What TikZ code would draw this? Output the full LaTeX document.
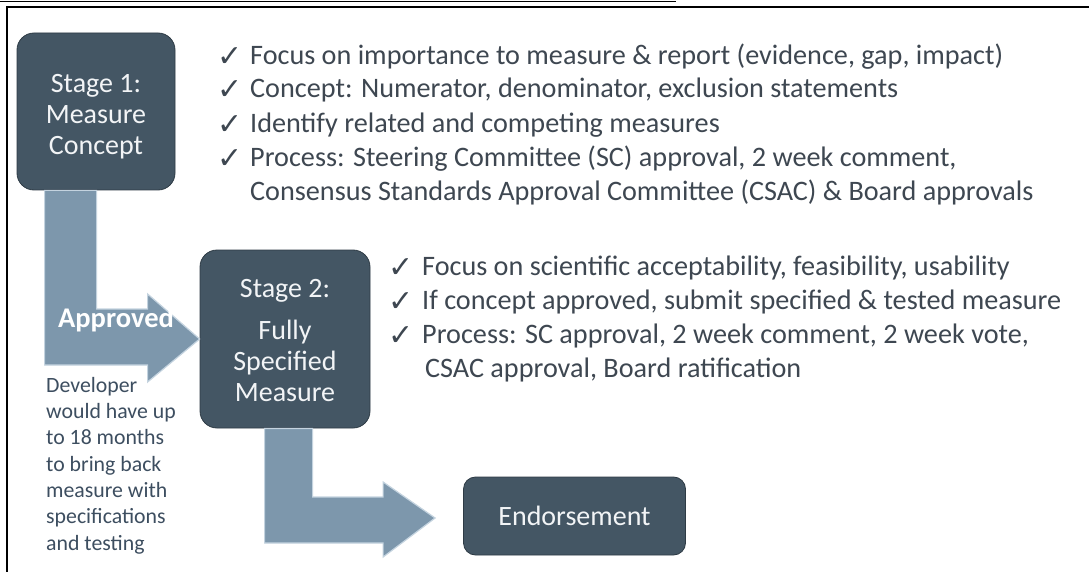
\documentclass[tikz,border=0pt]{standalone}
\usepackage{fontspec}
\setmainfont{Carlito}
\newfontfamily\symfont{DejaVu Sans}
\usetikzlibrary{calc}
\definecolor{boxc}{HTML}{445664}
\definecolor{boxedge}{HTML}{2E3B45}
\definecolor{arrc}{HTML}{7D97AC}
\definecolor{arrhi}{HTML}{C4D3DF}
\definecolor{txtc}{HTML}{3E4751}
\definecolor{devc}{HTML}{3D4E60}
\definecolor{boxtxt}{HTML}{F2F4F6}
\tikzset{
  stagebox/.style={draw=boxedge, line width=0.8pt, fill=boxc, rounded corners=17pt, align=center,
    text=boxtxt, font=\fontsize{28}{31}\selectfont, inner sep=0pt},
  boxlabel/.style={align=center, text=boxtxt, font=\fontsize{28}{31}\selectfont, inner sep=0pt},
  blockarrow/.style={fill=arrc, draw=arrhi, line width=1.2pt, line join=miter},
  bul/.style={anchor=west, text=txtc, font=\fontsize{28.2}{32}\selectfont, inner sep=0pt},
  chk/.style={anchor=west, text=txtc, font=\symfont\fontsize{30}{32}\selectfont, inner sep=0pt},
}
\begin{document}
\begin{tikzpicture}[x=1pt,y=-1pt]
\useasboundingbox (0,0) rectangle (1089,572);
\fill[white] (0,0) rectangle (1089,572);
% frame lines
\coordinate (tl0) at (0,1.5);
\coordinate (tl1) at (676,1.5);
\draw[line width=1.3pt] (tl0) -- (tl1);
\coordinate (fa) at (7,572);
\coordinate (fb) at (7,7.5);
\coordinate (fc) at (1089,7.5);
\draw[line width=2pt] (fa) -- (fb) -- (fc);

% boxes
\node[stagebox, minimum width=158pt, minimum height=157pt] (s1) at (96,111.5) {};
\node[boxlabel] (s1t) at ($(s1.center)+(0,5)$) {Stage 1:\\Measure\\Concept};
\node[stagebox, minimum width=170pt, minimum height=178pt] (s2) at (285,339) {};
\node[boxlabel] (s2t) at ($(s2.center)+(0,1.5)$) {Stage 2:\\[11pt]Fully\\Specified\\Measure};
\node[stagebox, rounded corners=12pt, minimum width=222pt, minimum height=78pt] (en) at (574.5,516) {Endorsement};

% block arrow 1 (stage 1 -> stage 2)
\draw[blockarrow]
  ($(s1.south west)+(28,0)$) -- ($(s1.south west)+(80,0)$) |- ($(s2.west)+(-52,-30)$)
  -- ($(s2.west)+(-52,-45)$) -- (s2.west) -- ($(s2.west)+(-52,43)$) -- ($(s2.west)+(-52,26)$)
  -| cycle;
\node[text=white, font=\bfseries\fontsize{28.5}{30}\selectfont, inner sep=0pt] (ap) at (116,320) {Approved};

% block arrow 2 (stage 2 -> endorsement)
\coordinate (tip2) at ($(en.west)+(-28,2)$);
\draw[blockarrow]
  ($(s2.south west)+(65,0)$) -- ($(s2.south west)+(113,0)$) |- ($(tip2)+(-52,-21)$)
  -- ($(tip2)+(-52,-36)$) -- (tip2) -- ($(tip2)+(-52,39)$) -- ($(tip2)+(-52,25)$)
  -| cycle;

% stage 1 bullets
\foreach \y/\nm in {57/a1,90/a2,125/a3,159/a4}{\node[chk] (c\nm) at (217,\y) {✓};}
\node[bul] (t1) at (250,57) {Focus on importance to measure \& report (evidence, gap, impact)};
\node[bul] (t2) at (250,90) {Concept: Numerator, denominator, exclusion statements};
\node[bul] (t3) at (250,125) {Identify related and competing measures};
\node[bul] (t4) at (250,159) {Process: Steering Committee (SC) approval, 2 week comment,};
\node[bul] (t5) at (250,192) {Consensus Standards Approval Committee (CSAC) \& Board approvals};

% stage 2 bullets
\foreach \y/\nm in {268/b1,302/b2,336/b3}{\node[chk] (c\nm) at (388,\y) {✓};}
\node[bul] (u1) at (422,268) {Focus on scientific acceptability, feasibility, usability};
\node[bul] (u2) at (422,302) {If concept approved, submit specified \& tested measure};
\node[bul] (u3) at (422,336) {Process: SC approval, 2 week comment, 2 week vote,};
\node[bul] (u4) at (425,370) {CSAC approval, Board ratification};

% developer note
\node[anchor=north west, align=left, text=devc, font=\fontsize{21.8}{26.3}\selectfont, inner sep=0pt] (dev) at (46,377)
  {Developer\\would have up\\to 18 months\\to bring back\\measure with\\specifications\\and testing};
\end{tikzpicture}
\end{document}
